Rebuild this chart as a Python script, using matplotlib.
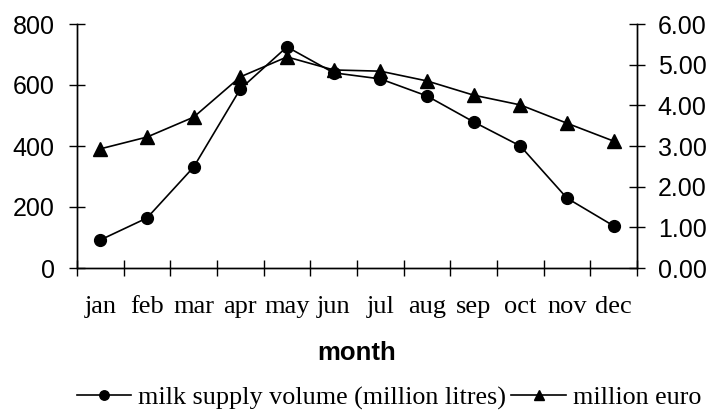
import numpy as np
import matplotlib.pyplot as plt
from matplotlib.ticker import FormatStrFormatter

months = ['jan', 'feb', 'mar', 'apr', 'may', 'jun', 'jul', 'aug', 'sep', 'oct', 'nov', 'dec']
milk_volume = [92, 164, 331, 587, 725, 640, 620, 564, 479, 400, 229, 138]
million_euro = [2.93, 3.22, 3.71, 4.70, 5.19, 4.87, 4.84, 4.60, 4.25, 4.01, 3.56, 3.12]

sans = 'Liberation Sans'
serif = 'Liberation Serif'

fig = plt.figure(figsize=(7.13, 4.12), dpi=100)
ax = fig.add_axes([77 / 713, (412 - 268) / 412, 560 / 713, 244 / 412])
ax2 = ax.twinx()

x = np.arange(len(months))
line1, = ax.plot(x, milk_volume, color='black', lw=1.2, marker='o', markersize=8.5,
                 label='milk supply volume (million litres)')
line2, = ax2.plot(x, million_euro, color='black', lw=1.2, marker='^', markersize=9.5,
                  label='million euro')

# axis ranges
ax.set_xlim(-0.5, 11.5)
ax.set_ylim(0, 800)
ax2.set_ylim(0, 6)
ax.set_yticks([0, 200, 400, 600, 800])
ax2.set_yticks([0, 1, 2, 3, 4, 5, 6])
ax2.yaxis.set_major_formatter(FormatStrFormatter('%.2f'))

# spines
for a in (ax, ax2):
    a.spines['top'].set_visible(False)
    for s in ('left', 'right', 'bottom'):
        a.spines[s].set_linewidth(1.0)

# x ticks: marks at boundaries, labels at centres
ax.set_xticks(np.arange(-0.5, 12, 1))
ax.set_xticklabels([])
ax.set_xticks(x, minor=True)
ax.set_xticklabels(months, minor=True, fontfamily=serif, fontsize=19)
ax.tick_params(axis='x', which='major', direction='inout', length=12, width=1)
ax.tick_params(axis='x', which='minor', length=0, pad=20)

ax.tick_params(axis='y', direction='inout', length=12, width=1, pad=10, labelsize=18)
ax2.tick_params(axis='y', direction='inout', length=12, width=1, pad=9, labelsize=18)
for lbl in ax.get_yticklabels() + ax2.get_yticklabels():
    lbl.set_fontfamily(sans)

fig.text(357 / 713, 1 - 353 / 412, 'month', ha='center', va='center',
         fontfamily=sans, fontweight='bold', fontsize=18.5)

fig.legend(handles=[line1, line2], loc='center', bbox_to_anchor=(389 / 713, 1 - 398 / 412),
           ncol=2, frameon=False, prop={'family': serif, 'size': 18.8},
           handlelength=2.1, handletextpad=0.26, columnspacing=0.2, borderaxespad=0,
           borderpad=0, markerscale=0.8)

plt.savefig('out.png', dpi=100)
